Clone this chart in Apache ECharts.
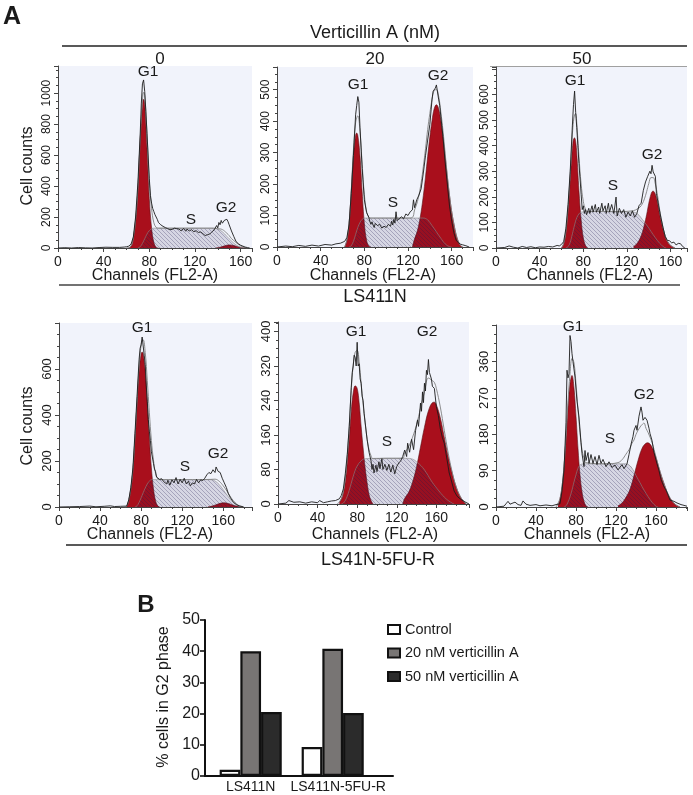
<!DOCTYPE html>
<html><head><meta charset="utf-8">
<style>html,body{margin:0;padding:0;background:#fff}#c{width:693px;height:795px}</style>
<script src="https://cdn.jsdelivr.net/npm/echarts@6/dist/echarts.min.js"></script>
</head><body><div id="c"></div>
<script>
// ---- Panel 1: LS411N, 0 nM
const p1G1=[[62,0],[64,12],[66,65],[68,180],[70,380],[72,690],[74,925],[75,960],[76,925],[78,640],[80,320],[82,130],[84,35],[86,5],[88,0]];
const p1S=[[70,0],[72,8],[74,30],[76,60],[78,90],[80,112],[82,124],[84,128],[100,128],[120,128],[136,128],[140,122],[144,105],[148,75],[152,45],[156,20],[160,5],[163,0]];
const p1G2=[[138,0],[142,5],[146,14],[150,20],[154,16],[158,7],[162,1],[165,0]];
const p1Fit=[[60,0],[64,12],[66,65],[68,180],[70,380],[72,698],[74,955],[75,1005],[76,985],[78,730],[80,432],[82,254],[84,163],[86,133],[88,128],[100,128],[120,128],[136,128],[140,125],[144,119],[148,95],[150,80],[152,61],[156,36],[160,14],[164,2],[166,0]];
const p1Raw=[[0,0],[6,2],[12,0],[18,3],[24,1],[30,0],[36,3],[42,5],[48,4],[54,4],[58,6],[60,8],[62,12],[64,25],[66,70],[68,200],[70,420],[72,730],[73,930],[74,1060],[75,1085],[76,1010],[77,880],[78,740],[80,450],[81,340],[82,290],[83,255],[84,235],[85,215],[86,213],[87,185],[88,165],[89,172],[90,150],[91,160],[92,140],[94,132],[95,138],[96,125],[98,118],[99,130],[100,120],[102,128],[103,118],[104,125],[106,122],[108,110],[110,126],[112,108],[113,122],[115,110],[117,118],[119,105],[121,112],[123,100],[125,104],[127,92],[129,80],[131,86],[133,90],[135,105],[137,118],[139,145],[140,130],[141,165],[142,150],[143,178],[144,160],[146,180],[148,185],[149,170],[150,150],[152,110],[154,75],[156,42],[158,28],[160,18],[162,12],[164,6],[166,3],[168,0]];
// ---- Panel 2: LS411N, 20 nM
const p2G1=[[62,0],[64,22],[66,75],[68,175],[70,290],[72,355],[73,362],[74,355],[76,290],[78,175],[80,75],[82,22],[84,3],[86,0]];
const p2S=[[66,0],[68,4],[70,18],[72,40],[74,62],[76,78],[78,88],[80,92],[100,92],[120,92],[134,92],[138,86],[142,68],[146,48],[150,28],[154,10],[158,1],[160,0]];
const p2G2=[[124,0],[126,26],[128,45],[130,73],[132,112],[134,163],[136,222],[138,288],[140,350],[142,402],[144,440],[146,452],[148,440],[150,402],[152,350],[154,288],[156,222],[158,163],[160,112],[162,73],[164,40],[166,18],[168,5],[170,0]];
const p2Fit=[[62,0],[64,22],[66,75],[68,179],[70,308],[72,395],[74,417],[76,368],[78,263],[80,167],[82,114],[84,95],[86,92],[100,92],[120,92],[124,94],[126,118],[128,137],[130,165],[132,204],[134,255],[136,312],[138,374],[140,425],[142,470],[144,498],[146,500],[148,480],[150,430],[152,370],[154,298],[156,226],[158,164],[160,112],[162,73],[164,40],[166,18],[168,5],[170,0]];
const p2Raw=[[0,0],[8,3],[14,1],[20,5],[26,2],[32,6],[38,3],[44,8],[50,6],[54,10],[58,12],[62,18],[64,30],[66,70],[68,170],[70,290],[72,420],[73,450],[74,478],[75,460],[76,380],[78,250],[80,150],[82,110],[84,95],[85,82],[86,72],[87,80],[88,70],[89,62],[90,75],[92,68],[94,72],[96,60],[98,66],[100,62],[102,72],[104,66],[105,82],[106,70],[107,88],[108,76],[109,112],[110,84],[112,90],[114,96],[116,90],[118,105],[120,100],[122,112],[124,118],[125,150],[126,125],[128,150],[130,165],[132,185],[134,235],[136,290],[138,340],[140,390],[142,470],[143,495],[145,505],[146,515],[147,510],[148,470],[149,450],[150,455],[152,350],[154,270],[156,200],[158,130],[160,82],[162,45],[164,22],[166,14],[168,9],[170,7],[173,4],[176,0]];
// ---- Panel 3: LS411N, 50 nM
const p3G1=[[60,0],[62,17],[64,62],[66,150],[68,270],[70,390],[71,425],[72,430],[73,415],[74,370],[76,225],[78,110],[80,40],[82,10],[84,0]];
const p3S=[[64,0],[66,5],[68,22],[70,55],[72,90],[74,118],[76,133],[78,140],[90,143],[110,142],[126,140],[130,132],[134,112],[138,90],[142,65],[146,40],[150,18],[154,3],[156,0]];
const p3G2=[[126,6],[128,12],[130,22],[132,38],[134,60],[136,92],[138,130],[140,175],[142,210],[143,220],[144,222],[146,210],[148,175],[150,130],[152,92],[154,60],[156,35],[158,20],[160,10],[162,4],[164,0]];
const p3Fit=[[60,0],[62,17],[64,62],[66,155],[68,292],[70,445],[71,495],[72,520],[73,525],[74,488],[76,358],[78,250],[80,182],[82,152],[84,142],[90,143],[110,142],[126,146],[130,154],[132,160],[134,172],[136,192],[138,220],[140,252],[142,275],[144,275],[146,250],[148,205],[150,148],[152,102],[154,63],[156,35],[158,20],[160,10],[162,4],[164,0]];
const p3Raw=[[0,0],[8,2],[12,8],[16,3],[20,0],[24,6],[28,2],[32,5],[36,1],[40,4],[44,3],[48,6],[52,4],[56,10],[58,8],[60,14],[62,25],[64,75],[66,170],[68,300],[70,480],[71,560],[72,613],[73,530],[74,470],[75,400],[76,330],[78,210],[79,150],[80,165],[81,135],[82,150],[83,130],[85,155],[86,135],[88,165],[89,140],[91,170],[92,140],[94,160],[95,135],[97,175],[98,145],[100,165],[101,135],[103,175],[104,140],[106,170],[108,135],[110,199],[111,125],[113,155],[115,135],[117,150],[119,120],[121,140],[123,125],[125,145],[127,120],[129,134],[131,165],[133,175],[135,225],[137,258],[139,280],[141,300],[142,290],[143,323],[144,297],[146,280],[147,212],[149,165],[151,120],[153,80],[155,45],[157,30],[159,28],[161,20],[163,23],[165,12],[167,18],[169,17],[171,6],[173,0]];
// ---- Panel 4: LS41N-5FU-R, 0 nM
const p4G1=[[66,3],[68,30],[70,80],[72,160],[74,300],[76,450],[78,590],[80,665],[81,674],[82,665],[84,590],[86,450],[88,300],[90,170],[92,80],[94,28],[96,6],[98,0]];
const p4S=[[74,0],[76,5],[78,20],[80,40],[82,62],[84,82],[86,100],[88,112],[90,119],[110,119],[130,119],[148,119],[152,113],[156,98],[160,75],[164,50],[168,28],[172,12],[176,2],[178,0]];
const p4G2=[[145,0],[149,4],[153,10],[157,16],[161,18],[165,15],[169,9],[173,4],[177,1],[179,0]];
const p4Fit=[[64,0],[66,3],[68,30],[70,80],[72,160],[74,300],[76,455],[78,610],[80,705],[81,725],[82,727],[84,672],[86,550],[88,412],[90,289],[92,205],[94,147],[96,125],[98,119],[130,119],[148,120],[152,121],[156,112],[160,92],[164,66],[168,38],[172,17],[176,3],[179,0]];
const p4Raw=[[0,0],[10,1],[20,2],[30,4],[36,1],[44,3],[50,5],[54,2],[60,3],[66,4],[68,32],[70,85],[72,170],[74,320],[76,480],[78,640],[79,690],[80,705],[81,739],[82,700],[83,660],[84,620],[85,530],[86,460],[87,380],[88,330],[89,290],[90,240],[91,232],[92,190],[93,165],[94,155],[95,130],[96,135],[98,120],[100,123],[102,110],[103,118],[105,100],[106,116],[108,95],[110,118],[112,105],[114,128],[116,100],[118,120],[120,105],[122,125],[124,100],[126,112],[128,92],[130,105],[132,100],[134,120],[136,105],[138,118],[140,115],[142,125],[144,140],[146,150],[148,145],[150,162],[152,150],[153,174],[155,155],[157,150],[159,125],[161,105],[163,85],[165,58],[167,40],[170,20],[173,10],[176,5],[180,0]];
// ---- Panel 5: LS41N-5FU-R, 20 nM
const p5G1=[[62,2],[64,12],[66,26],[68,52],[70,95],[72,150],[74,215],[76,258],[78,274],[80,268],[82,235],[84,180],[86,130],[88,85],[90,50],[92,22],[94,8],[96,0]];
const p5S=[[64,0],[66,2],[68,8],[70,18],[72,32],[74,48],[76,64],[78,78],[80,88],[84,100],[88,105],[110,106],[130,106],[136,104],[140,98],[146,85],[150,72],[156,50],[162,32],[168,16],[172,8],[176,2],[178,0]];
const p5G2=[[126,0],[128,13],[132,27],[136,51],[140,86],[144,132],[148,178],[152,216],[156,235],[158,236],[160,230],[164,200],[168,155],[172,110],[176,72],[180,40],[184,18],[188,5],[190,0]];
const p5Fit=[[60,0],[64,12],[66,28],[68,60],[70,113],[72,182],[74,263],[76,322],[78,352],[80,356],[82,330],[84,280],[86,232],[88,190],[90,152],[92,126],[94,112],[96,105],[110,106],[126,106],[128,118],[132,133],[136,155],[140,184],[144,222],[148,260],[152,292],[156,286],[158,282],[160,268],[164,225],[168,171],[172,118],[176,74],[180,40],[184,18],[188,5],[190,0]];
const p5Raw=[[0,0],[8,2],[11,8],[16,4],[22,5],[28,2],[34,5],[40,3],[42,8],[46,3],[50,5],[54,7],[58,8],[62,12],[64,20],[66,35],[68,70],[70,115],[72,180],[74,270],[75,305],[76,320],[77,345],[78,340],[79,320],[80,375],[81,320],[82,325],[83,290],[84,280],[85,250],[86,240],[87,210],[88,190],[90,150],[92,120],[94,100],[95,80],[96,92],[97,72],[99,90],[100,75],[102,98],[103,82],[105,105],[106,80],[108,92],[110,78],[112,92],[114,74],[116,90],[118,70],[120,87],[122,95],[124,100],[126,110],[128,125],[130,110],[131,141],[133,120],[135,150],[136,153],[137,126],[139,170],[141,195],[142,180],[144,234],[145,215],[146,260],[147,235],[148,280],[149,262],[150,310],[151,300],[152,335],[153,305],[154,304],[155,290],[156,273],[158,268],[160,226],[162,205],[164,175],[166,155],[168,141],[171,100],[173,72],[175,56],[178,30],[181,18],[184,12],[188,6],[193,0]];
// ---- Panel 6: LS41N-5FU-R, 50 nM
const p6G1=[[62,2],[64,21],[66,50],[68,100],[70,171],[72,248],[74,305],[76,326],[78,295],[80,225],[82,145],[84,80],[86,38],[88,14],[90,3],[92,0]];
const p6S=[[68,0],[70,3],[72,12],[74,25],[76,42],[78,62],[80,80],[82,96],[84,104],[88,107],[110,107],[130,107],[134,102],[136,96],[138,88],[140,78],[144,60],[148,42],[152,26],[156,12],[160,2],[162,0]];
const p6G2=[[122,3],[126,10],[130,24],[134,44],[138,78],[142,115],[146,145],[150,158],[152,159],[156,148],[160,122],[164,88],[168,58],[172,32],[176,15],[180,5],[184,0]];
const p6Fit=[[60,0],[64,21],[66,50],[68,100],[70,174],[72,260],[74,330],[76,368],[78,357],[80,305],[82,241],[84,184],[86,142],[88,121],[90,110],[110,107],[122,110],[126,117],[130,131],[134,146],[136,158],[138,166],[140,180],[144,198],[146,204],[148,208],[150,195],[152,185],[156,160],[160,124],[164,88],[168,58],[172,32],[176,15],[180,5],[184,0]];
const p6Raw=[[0,0],[8,2],[10,8],[12,14],[14,7],[16,8],[19,12],[22,6],[25,4],[27,15],[30,7],[34,4],[40,6],[44,3],[50,5],[56,3],[60,6],[62,6],[64,8],[66,40],[68,91],[70,210],[71,339],[72,320],[73,330],[74,425],[75,410],[76,380],[77,360],[79,322],[81,262],[83,223],[85,160],[86,132],[88,100],[89,140],[90,115],[92,135],[93,108],[95,130],[97,108],[99,125],[101,105],[103,128],[105,108],[107,118],[110,100],[113,112],[116,98],[119,104],[122,92],[124,91],[126,105],[128,95],[131,107],[133,130],[135,155],[137,175],[138,190],[140,202],[141,190],[143,225],[145,248],[146,235],[147,215],[149,222],[151,215],[153,195],[154,182],[156,165],[158,135],[161,107],[163,90],[165,68],[168,50],[170,42],[172,30],[174,17],[178,14],[181,10],[185,6],[188,4],[191,2]];
// ---- Panel B
const barCategories=['LS411N','LS411N-5FU-R'];
const controlValues=[2,9.3];
const nm20Values=[40,40.8];
const nm50Values=[20.5,20.2];
// ---- Text
const doseTicks=['0','20','50'];
const cellLines=['LS411N','LS41N-5FU-R'];

const panels=[
 {box:[58,66,194,182],xMax:170,yMax:1175,yInt:200,yTop:1000,fs:12,d:[p1G1,p1G2,p1S,p1Fit,p1Raw],g1:[148,72],s:[191,220],g2:[226,208],ch:[155,276]},
 {box:[277,67,196,180],xMax:179.5,yMax:572,yInt:100,yTop:500,fs:12,d:[p2G1,p2G2,p2S,p2Fit,p2Raw],g1:[358,85],s:[393,203],g2:[438,76],ch:[373,276]},
 {box:[496,67,191,181],xMax:175,yMax:707,yInt:100,yTop:600,fs:12,d:[p3G1,p3G2,p3S,p3Fit,p3Raw],g1:[575,81],s:[613,186],g2:[652,155],ch:[590,276]},
 {box:[59,323,193,184],xMax:188,yMax:800,yInt:200,yTop:600,fs:13,d:[p4G1,p4G2,p4S,p4Fit,p4Raw],g1:[142,328],s:[185,467],g2:[218,454],ch:[150,535]},
 {box:[278,322,191,182],xMax:193,yMax:422,yInt:80,yTop:400,fs:13,d:[p5G1,p5G2,p5S,p5Fit,p5Raw],g1:[356,332],s:[387,442],g2:[427,332],ch:[375,535]},
 {box:[496,325,191,182],xMax:191,yMax:451,yInt:90,yTop:360,fs:13,d:[p6G1,p6G2,p6S,p6Fit,p6Raw],g1:[573,327],s:[610,439],g2:[644,395],ch:[587,535]}
];

// hatch pattern for the S-phase fill: neutral so it reads lavender on the panel and dark over red
const hatch=document.createElement('canvas');hatch.width=4;hatch.height=4;
(function(){const c=hatch.getContext('2d');
 c.fillStyle='rgba(35,25,70,0.13)';c.fillRect(0,0,4,4);
 c.strokeStyle='rgba(35,25,80,0.30)';c.lineWidth=0.9;
 c.beginPath();c.moveTo(0,0);c.lineTo(4,4);c.moveTo(-2,2);c.lineTo(2,6);c.moveTo(2,-2);c.lineTo(6,2);c.stroke();})();

const FONT='"Liberation Sans",Arial,sans-serif';
const RED='#a90f1c';
const grid=[],xAxis=[],yAxis=[],series=[],graphic=[];
const txt=(t,x,y,size,extra)=>graphic.push(Object.assign({type:'text',x,y,silent:true,style:{text:t,font:(extra&&extra.bold?'bold ':'')+size+'px '+FONT,fill:'#1a1a1a',textAlign:'center',textVerticalAlign:'middle'}},extra&&extra.rot?{rotation:extra.rot}:{}));
const line=(x1,y1,x2,y2,col,w)=>graphic.push({type:'line',silent:true,shape:{x1,y1,x2,y2},style:{stroke:col||'#222',lineWidth:w||1.2}});

panels.forEach((p,i)=>{
 grid.push({left:p.box[0],top:p.box[1],width:p.box[2],height:p.box[3],show:true,backgroundColor:'#f1f3fb',borderWidth:0,containLabel:false});
 const ax={lineStyle:{color:'#444',width:1}};
 xAxis.push({gridIndex:i,type:'value',min:0,max:p.xMax,interval:40,splitLine:{show:false},axisLine:{show:true,onZero:false,...ax},
  axisTick:{show:true,length:4,...ax},minorTick:{show:true,splitNumber:4,length:2,...ax},
  axisLabel:{fontFamily:FONT,fontSize:14,color:'#1a1a1a',margin:7,showMaxLabel:false}});
 yAxis.push({gridIndex:i,type:'value',min:0,max:p.yMax,interval:p.yInt,splitLine:{show:false},axisLine:{show:true,onZero:false,...ax},
  axisTick:{show:true,length:4,...ax},minorTick:{show:true,splitNumber:4,length:2,...ax},
  axisLabel:{fontFamily:FONT,fontSize:p.fs,color:'#1a1a1a',rotate:90,margin:5,showMaxLabel:false,
   formatter:v=>v>p.yTop?'':String(v)}});
 const base={type:'line',xAxisIndex:i,yAxisIndex:i,showSymbol:false,symbol:'none',silent:true,animation:false};
 [0,1].forEach(k=>series.push({...base,data:p.d[k],smooth:0.4,z:2,lineStyle:{color:'#5a1015',width:0.6},areaStyle:{color:RED,opacity:1}}));
 series.push({...base,data:p.d[2],smooth:0.4,z:3,lineStyle:{color:'#8a8a8a',width:0.6},areaStyle:{color:{image:hatch,repeat:'repeat'},opacity:1}});
 series.push({...base,data:p.d[3],smooth:0.4,z:4,lineStyle:{color:'#808080',width:0.9}});
 series.push({...base,data:p.d[4],z:5,lineStyle:{color:'#1c1c1c',width:0.9}});
 txt('G1',p.g1[0],p.g1[1],15.5);txt('S',p.s[0],p.s[1],15.5);txt('G2',p.g2[0],p.g2[1],15.5);
 txt('Channels (FL2-A)',p.ch[0],p.ch[1],16);
});

// Panel B: frame grid (axes) + bar grid
const fi=panels.length, bi=fi+1;
grid.push({left:205,top:620,width:188,height:156,show:false});
xAxis.push({gridIndex:fi,type:'value',min:0,max:1,axisLine:{show:true,lineStyle:{color:'#111',width:2}},axisTick:{show:false},axisLabel:{show:false},splitLine:{show:false}});
yAxis.push({gridIndex:fi,type:'value',min:0,max:50,interval:10,splitLine:{show:false},axisLine:{show:true,onZero:false,lineStyle:{color:'#111',width:2}},axisTick:{show:true,length:5,lineStyle:{color:'#111',width:1.6}},axisLabel:{fontFamily:FONT,fontSize:16,color:'#1a1a1a',margin:5}});
grid.push({left:209.7,top:620,width:164,height:156,show:false});
xAxis.push({gridIndex:bi,type:'category',
 data:[{value:barCategories[0]},{value:barCategories[1],textStyle:{padding:[0,0,0,11]}}],
 axisLine:{show:false},axisTick:{show:false},axisLabel:{fontFamily:FONT,fontSize:14,color:'#1a1a1a',margin:4,interval:0}});
yAxis.push({gridIndex:bi,type:'value',min:0,max:50,interval:10,show:false});
const barBase={type:'bar',xAxisIndex:bi,yAxisIndex:bi,barWidth:20.7,barGap:'0%',animation:false,silent:true};
series.push({...barBase,name:'Control',data:controlValues,itemStyle:{color:'#fff',borderColor:'#111',borderWidth:2.2}});
series.push({...barBase,name:'20 nM verticillin A',data:nm20Values,itemStyle:{color:'#787574',borderColor:'#111',borderWidth:2.2}});
series.push({...barBase,name:'50 nM verticillin A',data:nm50Values,itemStyle:{color:'#2b2b2b',borderColor:'#111',borderWidth:2.2}});
series.push({type:'line',xAxisIndex:fi,yAxisIndex:fi,data:[],silent:true});

// Fixed labels
txt('A',12,17,25,{bold:true});
txt('B',146,605,24,{bold:true});
txt('Verticillin A (nM)',375,33,18);
line(62,46,687,46,'#222',1.3);
txt(doseTicks[0],160,59,17);txt(doseTicks[1],375,59,17);txt(doseTicks[2],582,59,17);
line(490,66.5,687,66.5,'#888',0.8);
line(59,285,680,285,'#444',1.3);
txt(cellLines[0],375,297,18);
line(66,545,687,545,'#222',1.3);
txt(cellLines[1],378,560,18);
txt('Cell counts',28,166,16);
graphic[graphic.length-1].rotation=Math.PI/2;
txt('Cell counts',28,426,16);
graphic[graphic.length-1].rotation=Math.PI/2;
txt('% cells in G2 phase',164,697,16);
graphic[graphic.length-1].rotation=Math.PI/2;

const chart=echarts.init(document.getElementById('c'),null,{renderer:'canvas'});
chart.setOption({animation:false,backgroundColor:'#fff',grid,xAxis,yAxis,series,graphic:{elements:graphic},
 legend:{show:true,orient:'vertical',left:387,top:622,padding:0,itemWidth:12,itemHeight:9,itemGap:8.5,icon:'rect',selectedMode:false,
  data:['Control','20 nM verticillin A','50 nM verticillin A'],textStyle:{fontFamily:FONT,fontSize:14.5,color:'#1a1a1a'},itemStyle:{borderWidth:2}}});
</script></body></html>
